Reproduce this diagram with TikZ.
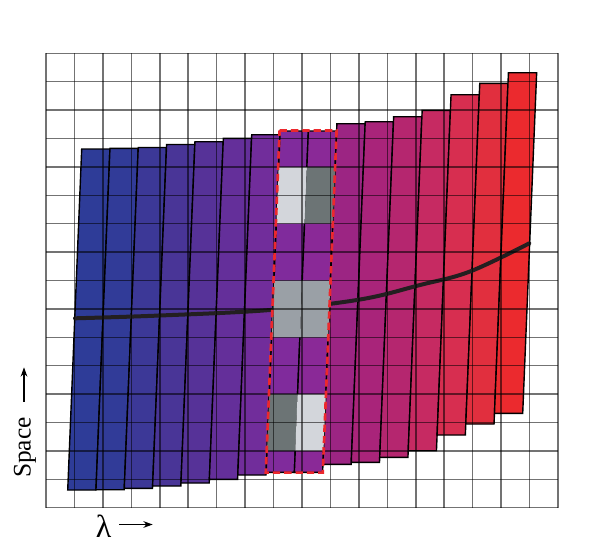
\documentclass[tikz,border=0pt]{standalone}
\usepackage{fontspec}
\setmainfont{Liberation Serif}
\usetikzlibrary{arrows.meta}
\definecolor{s0}{RGB}{46,60,152}
\definecolor{s1}{RGB}{49,59,152}
\definecolor{s2}{RGB}{60,56,151}
\definecolor{s3}{RGB}{73,53,151}
\definecolor{s4}{RGB}{86,50,152}
\definecolor{s5}{RGB}{100,47,154}
\definecolor{s6}{RGB}{113,45,155}
\definecolor{s7}{RGB}{128,43,156}
\definecolor{s8}{RGB}{138,41,151}
\definecolor{s9}{RGB}{156,37,131}
\definecolor{s10}{RGB}{169,36,122}
\definecolor{s11}{RGB}{181,38,111}
\definecolor{s12}{RGB}{198,42,98}
\definecolor{s13}{RGB}{215,46,80}
\definecolor{s14}{RGB}{225,47,62}
\definecolor{s15}{RGB}{235,42,46}
\definecolor{plight}{RGB}{211,214,219}
\definecolor{pdark}{RGB}{108,116,117}
\definecolor{pmid}{RGB}{154,160,166}
\definecolor{boxred}{RGB}{236,40,45}
\definecolor{curvecol}{RGB}{35,31,32}
\tikzset{
  stripbox/.style={draw=black, line width=1.05pt, line join=miter},
  gridline/.style={draw=black, draw opacity=0.55, line width=1.1pt},
  selbox/.style={draw=boxred, line width=2pt, dash pattern=on 5.5pt off 3pt},
  specline/.style={draw=curvecol, line width=3pt, line cap=round},
  lbl/.style={font=\fontsize{19}{22}\selectfont, inner sep=0pt},
  lamlbl/.style={font=\fontsize{24}{28}\selectfont, inner sep=0pt},
  axarrow/.style={-{Stealth[length=7pt,width=5pt]}, line width=1pt}
}
\begin{document}
\begin{tikzpicture}[x=0.75pt,y=-0.75pt]
\useasboundingbox (0,0) rectangle (600,558);
\fill[white] (0,0) rectangle (600,558);
\def\W{28.24}
\def\S{0.041}
% strips
\foreach \i/\t/\b in {0/149/490, 1/148.3/489.7, 2/147.5/488.3, 3/144.5/486, 4/141.7/483, 5/138.3/479.3, 6/134.7/475, 7/131/472.3, 8/131/472.3, 9/123.7/464.3, 10/121.7/462.3, 11/116.7/457.3, 12/110.3/450.7, 13/94.7/435, 14/83.3/424, 15/72.7/413.3}{
  \pgfmathsetmacro\xt{81.7+\W*\i-\S*(\t-149)}
  \pgfmathsetmacro\xb{81.7+\W*\i-\S*(\b-149)}
  \filldraw[stripbox, fill=s\i] (\xt,\t) -- ({\xt+\W},\t) -- ({\xb+\W},\b) -- (\xb,\b) -- cycle;
}
% spectrum trace
\draw[specline] plot[smooth, tension=0.6] coordinates {(75,318.3) (160,315.5) (270,310) (360,299.5) (420,285) (470,271.5) (529.3,243.3)};
% gray patches
\foreach \i/\ya/\yb/\c in {7/167/223.7/plight, 8/167/223.7/pdark, 7/280.5/337.3/pmid, 8/280.5/337.3/pmid, 7/394/450.9/pdark, 8/394/450.9/plight}{
  \pgfmathsetmacro\xa{81.7+\W*\i-\S*(\ya-149)}
  \pgfmathsetmacro\xb{81.7+\W*\i-\S*(\yb-149)}
  \fill[\c] (\xa,\ya) -- ({\xa+\W},\ya) -- ({\xb+\W},\yb) -- (\xb,\yb) -- cycle;
}
% grid
\foreach \k in {0,...,18}{
  \draw[gridline] ({46+28.444*\k},53.3) -- ({46+28.444*\k},507.7);
}
\foreach \k in {0,...,16}{
  \draw[gridline] (46,{53.3+28.4*\k}) -- (558,{53.3+28.4*\k});
}
% selection box
\draw[selbox] (279.6,130.5) -- (336.6,130.5) -- (322.8,472.6) -- (265.8,472.6) -- cycle;
% labels
\node[lbl, rotate=90] (space) at (25,447.5) {Space};
\coordinate (sA) at (24,401.7);
\coordinate (sB) at (24,367.3);
\draw[axarrow] (sA) -- (sB);
\node[lamlbl] (lam) at (103.7,526) {λ};
\coordinate (lA) at (119.3,524.5);
\coordinate (lB) at (152.7,524.5);
\draw[axarrow] (lA) -- (lB);
\end{tikzpicture}
\end{document}
